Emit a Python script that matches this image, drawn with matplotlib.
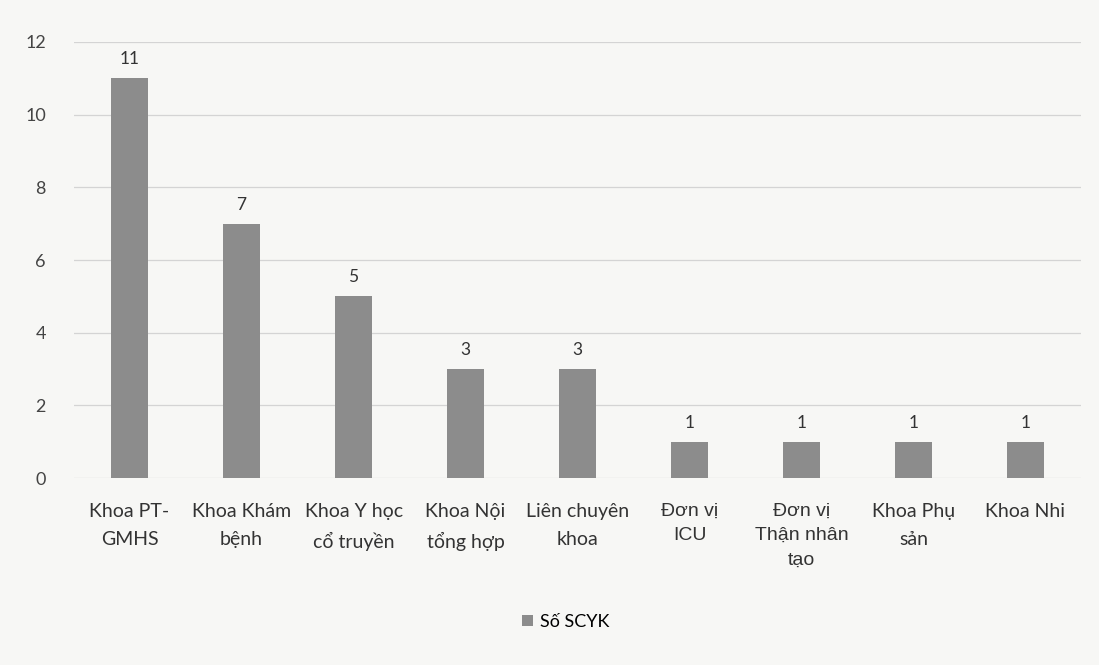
import matplotlib.pyplot as plt
import numpy as np

plt.rcParams['font.family'] = ['Lato', 'DejaVu Sans']

# data
categories = ['Khoa PT-\nGMHS', 'Khoa Khám\nbệnh', 'Khoa Y học\ncổ truyền', 'Khoa Nội\ntổng hợp',
              'Liên chuyên\nkhoa', 'Đơn vị\nICU', 'Đơn vị\nThận nhân\ntạo', 'Khoa Phụ\nsản', 'Khoa Nhi']
values = [11, 7, 5, 3, 3, 1, 1, 1, 1]
series_name = 'Số SCYK'
yticks = [0, 2, 4, 6, 8, 10, 12]

fig = plt.figure(figsize=(10.99, 6.65), dpi=100)
fig.patch.set_facecolor('#f7f7f5')
ax = fig.add_axes([0.067, 0.281, 0.917, 0.656])
ax.set_facecolor('#f7f7f5')

x = np.arange(len(categories))
bars = ax.bar(x, values, width=0.33, color='#8c8c8c', label=series_name, zorder=3)

for xi, v in zip(x, values):
    ax.text(xi, v + 0.3, str(v), ha='center', va='bottom', fontsize=12.5, color='#333333')

ax.set_xlim(-0.5, len(categories) - 0.5)
ax.set_ylim(0, 12)
ax.set_yticks(yticks)
ax.set_yticklabels([str(t) for t in yticks], fontsize=13, color='#444444')
ax.tick_params(axis='y', length=0, pad=20)
ax.set_xticks(x)
ax.set_xticklabels(categories, fontsize=14, color='#333333', linespacing=1.75)
ax.tick_params(axis='x', length=0, pad=18)

# a couple of labels appear in an Arial-like face
for i, lab in enumerate(ax.get_xticklabels()):
    if i in (5, 6):
        lab.set_family(['Liberation Sans', 'DejaVu Sans'])
        lab.set_fontsize(14)
        lab.set_linespacing(1.55)

ax.yaxis.grid(True, color='#d4d4d4', linewidth=0.9, zorder=0)
for s in ax.spines.values():
    s.set_visible(False)

fig.legend(loc='center', bbox_to_anchor=(0.515, 0.065), frameon=False, fontsize=13,
           handlelength=0.6, handleheight=0.6, handletextpad=0.4)

fig.savefig('out.png', dpi=100, facecolor=fig.get_facecolor())
